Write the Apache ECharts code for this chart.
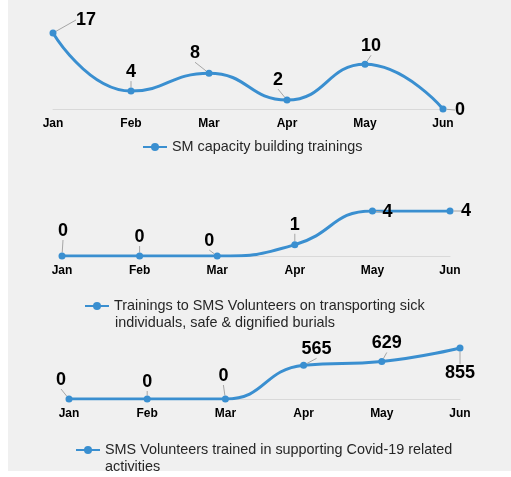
<!DOCTYPE html>
<html>
<head>
<meta charset="utf-8">
<script src="https://cdn.jsdelivr.net/npm/echarts@6/dist/echarts.min.js"></script>
<style>
  html, body { margin: 0; padding: 0; background: #ffffff; }
  #chart { position: absolute; left: 8px; top: 0; width: 503px; height: 471px; }
</style>
</head>
<body>
<div id="chart"></div>
<script>
// months shared by all three panels
const months = ['Jan', 'Feb', 'Mar', 'Apr', 'May', 'Jun'];

const smTrainings = [17, 4, 8, 2, 10, 0];
const transportTrainings = [0, 0, 0, 1, 4, 4];
const covidVolunteers = [0, 0, 0, 565, 629, 855];

const names = [
  'SM capacity building trainings',
  'Trainings to SMS Volunteers on transporting sick individuals, safe & dignified burials',
  'SMS Volunteers trained in supporting Covid-19 related activities',
];

const lineColor = '#3a8fd0';
const fontLabel = '"Liberation Sans Narrow", "Liberation Sans", Arial, sans-serif';
const fontText = '"Liberation Sans", Arial, sans-serif';
const legendFontSize = 14.4;

// label offsets (dx, dy) from each point, per panel
const labelOffsets = [
  [[33, -13], [0, -19], [-14, -20], [-9, -20], [6, -18], [17, 1]],
  [[1, -25], [0, -19], [-8, -15], [0, -20], [15, 1], [16, 0]],
  [[-8, -19], [0, -17], [-2, -23], [13, -16], [5, -18], [0, 25]],
];

const grids = [
  { left: 45, right: 68, top: 33, height: 76 },
  { left: 54, right: 61, top: 211, height: 45 },
  { left: 61, right: 51, top: 348, height: 51 },
];

// legend text is wrapped by hand: first line goes in the legend, the rest below it
const legends = [
  { left: 129, top: 135, first: names[0], rest: null, restX: 0, restY: 0 },
  { left: 71, top: 294, first: 'Trainings to SMS Volunteers on transporting sick', rest: 'individuals, safe & dignified burials', restX: 107, restY: 325 },
  { left: 62, top: 438, first: 'SMS Volunteers trained in supporting Covid-19 related', rest: 'activities', restX: 97, restY: 469 },
];

const seriesValues = [smTrainings, transportTrainings, covidVolunteers];

const chart = echarts.init(document.getElementById('chart'));

const option = {
  backgroundColor: '#f0f0f0',
  animation: false,
  grid: grids,
  xAxis: grids.map((g, i) => ({
    type: 'category',
    gridIndex: i,
    data: months,
    boundaryGap: false,
    axisLine: { show: true, lineStyle: { color: '#d9d9d9', width: 1 } },
    axisTick: { show: false },
    axisLabel: {
      color: '#000',
      fontWeight: 'bold',
      fontSize: 12,
      fontFamily: fontText,
      margin: 9,
    },
    splitLine: { show: false },
  })),
  yAxis: grids.map((g, i) => ({
    type: 'value',
    gridIndex: i,
    min: 0,
    max: Math.max(...seriesValues[i]),
    show: false,
  })),
  legend: legends.map((l, i) => ({
    data: [names[i]],
    left: l.left,
    top: l.top,
    orient: 'horizontal',
    itemWidth: 24,
    itemHeight: 10,
    formatter: () => l.first,
    textStyle: {
      color: '#262626',
      fontSize: legendFontSize,
      fontFamily: fontText,
    },
  })),
  graphic: legends.filter((l) => l.rest).map((l) => ({
    type: 'text',
    left: l.restX,
    top: l.restY - 9,
    silent: true,
    style: {
      text: l.rest,
      fill: '#262626',
      fontSize: legendFontSize,
      fontFamily: fontText,
    },
  })),
  series: seriesValues.map((vals, i) => ({
    name: names[i],
    type: 'line',
    xAxisIndex: i,
    yAxisIndex: i,
    data: vals,
    smooth: 0.5,
    symbol: 'circle',
    symbolSize: 7,
    itemStyle: { color: lineColor },
    lineStyle: { color: lineColor, width: 3 },
    label: {
      show: true,
      position: 'inside',
      color: '#000',
      fontWeight: 'bold',
      fontSize: 18,
      fontFamily: fontLabel,
    },
    labelLine: {
      show: true,
      lineStyle: { color: '#a6a6a6', width: 1 },
    },
    labelLayout: (params) => {
      const off = labelOffsets[i][params.dataIndex];
      return { dx: off[0], dy: off[1] };
    },
  })),
};

chart.setOption(option);
</script>
</body>
</html>
